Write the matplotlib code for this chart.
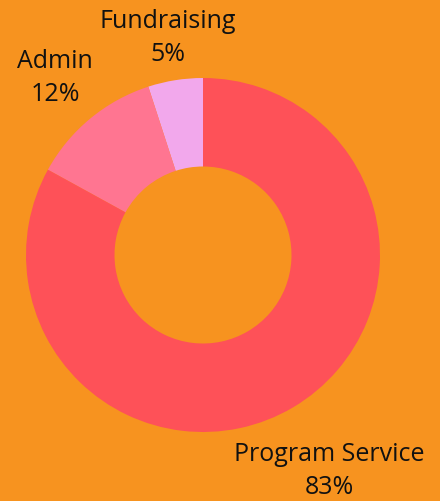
import matplotlib
matplotlib.use("Agg")
import matplotlib.pyplot as plt
import numpy as np

categories = ["Fundraising", "Admin", "Program Service"]
values = [5, 12, 83]
colors = ["#F2A8EC", "#FF7591", "#FE5158"]
bg = "#F7931F"

fig = plt.figure(figsize=(4.40, 5.01), dpi=100, facecolor=bg)
ax = fig.add_axes([0, 0, 1, 1])
ax.set_facecolor(bg)
cx, cy, R = 203, 255, 177

ax.pie(values, colors=colors, startangle=90, counterclock=True,
       radius=1.0, wedgeprops=dict(width=0.5, linewidth=0), center=(0, 0))

ax.set_xlim(-cx / R, (440 - cx) / R)
ax.set_ylim((cy - 501) / R, cy / R)
ax.set_aspect("equal")
ax.axis("off")

def px(x, y):
    return ((x - cx) / R, (cy - y) / R)

label_pos = {"Fundraising": (168, 38), "Admin": (55, 78), "Program Service": (329, 471)}
for cat, v in zip(categories, values):
    x, y = px(*label_pos[cat])
    ax.text(x, y, f"{cat}\n{v}%", ha="center", va="center", fontsize=18,
            family=["Open Sans", "DejaVu Sans"], color="#111111", linespacing=1.45)

fig.savefig("out.png", dpi=100, facecolor=bg)
